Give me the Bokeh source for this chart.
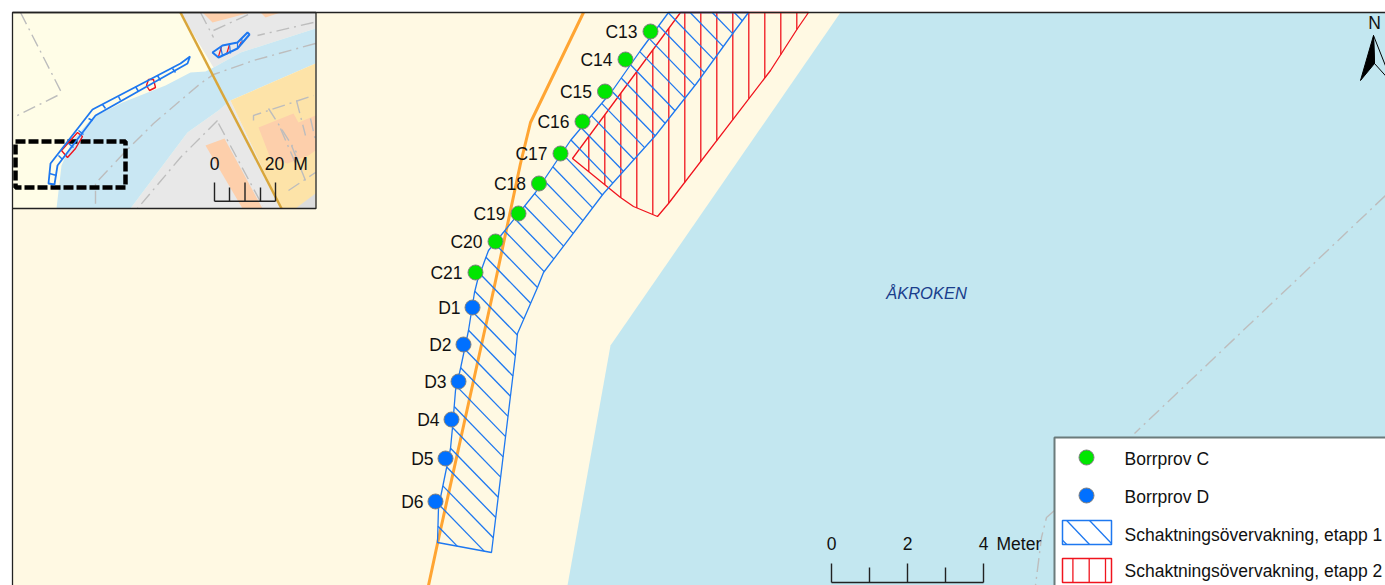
from bokeh.plotting import figure
from bokeh.embed import file_html
from bokeh.resources import INLINE
from bokeh.core.properties import value

W, H = 1385, 585
# ---- borehole points
c_names = ["C13", "C14", "C15", "C16", "C17", "C18", "C19", "C20", "C21"]
c_x = [650, 625, 604.5, 582, 560, 538.5, 518, 495, 475]
c_y = [31, 59, 91, 121, 153, 183, 213, 241, 272]
d_names = ["D1", "D2", "D3", "D4", "D5", "D6"]
d_x = [472, 463, 458, 451, 445, 435]
d_y = [307, 344, 381, 419, 458, 501]
# ---- main map shapes
water_x = [840, 610, 567, 1385, 1385]
water_y = [12, 345, 585, 585, 12]
shore_x = [583, 530, 520, 493, 437, 428]
shore_y = [12, 122, 163, 290, 543, 585]
channel1_x = [1385, 1134]
channel1_y = [195, 433]
channel2_x = [1054, 1046, 1041, 1035]
channel2_y = [510, 517, 537, 585]
blue_x = [748, 733, 696, 655, 603, 543, 537, 517, 515, 491, 437, 438, 440, 450, 452, 455, 460, 468, 474, 477, 485, 488, 502, 535, 570, 612, 640, 668]
blue_y = [12, 32, 83, 135, 193, 272, 287, 333, 354, 552, 542, 507, 497, 448, 427, 390, 368, 330, 292, 280, 258, 250, 233, 192, 140, 90, 50, 12]
red_x = [680, 808, 797, 770, 668, 657, 633, 620, 572]
red_y = [12, 12, 28, 70, 203, 216, 206, 197, 158]
# ---- inset shapes
inset_water_x = [56, 61, 72, 92, 122, 165, 190, 205, 213, 240, 315, 315, 230, 218, 187, 130]
inset_water_y = [208, 165, 140, 117, 102, 85, 72, 71, 67, 52, 28, 63, 100, 110, 132, 208]
gray_n_x = [180, 315, 315, 240, 213]
gray_n_y = [12, 12, 28, 52, 67]
gray_s_x = [218, 230, 281, 130, 187]
gray_s_y = [110, 100, 208, 208, 132]
sand_x = [315, 230, 281, 315]
sand_y = [63, 100, 208, 208]
gray_se_x = [295, 315, 315, 285]
gray_se_y = [208, 193, 208, 208]
bld_xs = [[205, 224, 262, 242], [258, 293, 298, 315, 315, 308, 287, 270], [202, 250, 212], [260, 280, 265]]
bld_ys = [[145, 138, 208, 208], [127, 113, 122, 115, 150, 155, 163, 158], [12, 12, 22], [12, 12, 17]]
road_x = [180, 281]
road_y = [12, 208]
grid_xs = [[20, 61], [57, 13], [315, 253, 213, 200, 153, 123, 95, 95], [217, 180, 137], [218, 262], [200, 213], [213, 250], [313, 257],
           [253, 253, 313], [268, 296], [280, 296], [296, 305], [310, 315], [288, 315], [291, 305]]
grid_ys = [[12, 92], [95, 117], [43, 60, 74, 83, 123, 153, 183, 208], [120, 157, 208], [123, 205], [12, 37], [30, 13], [22, 35],
           [120, 115, 95], [108, 152], [128, 165], [100, 135], [118, 140], [190, 172], [145, 180]]
strip_x = [189.5, 180, 92, 50, 48, 54, 57, 95, 187, 189.5]
strip_y = [56, 63, 109, 163, 183, 184, 165, 115, 63, 56]
strip_tick_xs = [[172, 175], [157, 160], [135, 138], [118, 120], [102, 105], [88, 92], [78, 83], [68, 73], [58, 62], [49, 56]]
strip_tick_ys = [[68, 72], [75, 80], [86, 91], [96, 100], [104, 108], [118, 120], [130, 134], [143, 147], [155, 159], [173, 175]]
strip2_x = [212, 222, 237, 247, 249, 237, 218]
strip2_y = [52, 45, 42, 32, 34, 48, 57]
strip2_tick_xs = [[220, 222], [229, 230], [237, 237], [241, 242]]
strip2_tick_ys = [[46, 55], [44, 53], [42, 48], [38, 42]]
red_small_xs = [[148, 153, 155, 149, 146], [77, 82, 75, 67, 61]]
red_small_ys = [[79, 79, 87, 90, 85], [132, 136, 148, 157, 150]]
red_tick_xs = [[221, 218], [229, 226], [241, 238]]
red_tick_ys = [[46, 56], [44, 54], [41, 47]]
frame_x = [15, 125, 125, 15, 15]
frame_y = [141, 141, 187, 187, 141]
# ---- scale bars
bar_x = [831, 869, 907, 945, 983]
bar_tops = [563, 567, 563, 567, 563]
bar_base = 582
bar_labels = ["0", "2", "4"]
bar_label_x = [831, 907, 983]
inset_bar_x = [214, 229, 244.5, 260, 275]
inset_bar_tops = [182, 187, 182, 187, 182]
inset_bar_base = 200.7
inset_labels = ["0", "20", "M"]
inset_label_x = [214, 274, 300]
legend_labels = ["Borrprov C", "Borrprov D", "Schaktningsövervakning, etapp 1", "Schaktningsövervakning, etapp 2"]
legend_label_y = [458, 496, 534, 570]

BLUE = "#1E78F0"
RED = "#F0141E"
GRID = "#BDBDBD"
FONT = value("Liberation Sans")
FS = "17.5px"
INK = "#111111"


def hatch(px, py, slope, start, step, n):
    """clip parallel hatch lines y = slope*x + c to a polygon"""
    xs, ys = [], []
    m = len(px)
    for k in range(n):
        c = start + k * step
        hits = []
        for i in range(m):
            x0, y0, x1, y1 = px[i], py[i], px[(i + 1) % m], py[(i + 1) % m]
            f0, f1 = y0 - slope * x0 - c, y1 - slope * x1 - c
            if (f0 < 0) != (f1 < 0):
                t = f0 / (f0 - f1)
                hits.append(x0 + t * (x1 - x0))
        hits.sort()
        for a, b in zip(hits[::2], hits[1::2]):
            xs.append([a, b])
            ys.append([slope * a + c, slope * b + c])
    return xs, ys


def vhatch(px, py, start, step, n):
    xs, ys = [], []
    m = len(px)
    for k in range(n):
        x = start + k * step
        hits = []
        for i in range(m):
            x0, y0, x1, y1 = px[i], py[i], px[(i + 1) % m], py[(i + 1) % m]
            if (x0 < x) != (x1 < x):
                hits.append(y0 + (x - x0) / (x1 - x0) * (y1 - y0))
        hits.sort()
        for a, b in zip(hits[::2], hits[1::2]):
            xs.append([x, x])
            ys.append([a, b])
    return xs, ys


p = figure(width=W, height=H, x_range=(0, W), y_range=(H, 0), output_backend="svg",
           toolbar_location=None, min_border=0, outline_line_color=None, background_fill_color="white")
p.axis.visible = False
p.grid.visible = False

# main map
p.quad(left=12, right=W, top=12, bottom=H, fill_color="#FFF9E3", line_color=None)
p.patch(water_x, water_y, fill_color="#C3E7F0", line_color=None)
p.line(channel1_x, channel1_y, line_color=GRID, line_width=1.4, line_dash="14 5 2 5")
p.line(channel2_x, channel2_y, line_color=GRID, line_width=1.4, line_dash="14 5 2 5")
p.line(shore_x, shore_y, line_color="#FFA533", line_width=3)

# work areas
rx, ry = vhatch(red_x, red_y, 588.3, 16, 14)
p.multi_line(rx, ry, line_color=RED, line_width=1.3)
p.patch(red_x, red_y, fill_color=None, line_color=RED, line_width=1.3)
bx, by = hatch(blue_x, blue_y, 1.03, -743.8, 22.75, 38)
p.multi_line(bx, by, line_color=BLUE, line_width=1.3)
p.patch(blue_x, blue_y, fill_color=None, line_color=BLUE, line_width=1.3)

# inset
p.quad(left=12, right=315.5, top=12, bottom=208, fill_color="#FFFDE7", line_color=None)
p.patch(gray_n_x, gray_n_y, fill_color="#E8E8E8", line_color=None)
p.patch(gray_s_x, gray_s_y, fill_color="#E8E8E8", line_color=None)
p.patch(inset_water_x, inset_water_y, fill_color="#C9E7F3", line_color=None)
p.patch(sand_x, sand_y, fill_color="#FDE3A8", line_color=None)
p.patch(gray_se_x, gray_se_y, fill_color="#DCDCDC", line_color=None)
p.patches(bld_xs, bld_ys, fill_color="#FDCFAB", line_color=None)
p.multi_line(grid_xs, grid_ys, line_color=GRID, line_width=1.4, line_dash="13 5 2 5")
p.line(road_x, road_y, line_color="#D9A63A", line_width=2.5)
p.line(frame_x, frame_y, line_color="black", line_width=4.5, line_dash="10 3")
p.patches(red_small_xs, red_small_ys, fill_color=None, line_color=RED, line_width=1.4)
p.multi_line(red_tick_xs, red_tick_ys, line_color=RED, line_width=1.2)
p.patch(strip_x, strip_y, fill_color=None, line_color=BLUE, line_width=1.8)
p.multi_line(strip_tick_xs, strip_tick_ys, line_color=BLUE, line_width=1.5)
p.patch(strip2_x, strip2_y, fill_color=None, line_color=BLUE, line_width=2)
p.multi_line(strip2_tick_xs, strip2_tick_ys, line_color=BLUE, line_width=1.2)

# inset scale
p.line([inset_bar_x[0], inset_bar_x[-1]], [inset_bar_base] * 2, line_color="#222222", line_width=1.4)
p.segment(inset_bar_x, inset_bar_tops, inset_bar_x, [inset_bar_base] * 5, line_color="#222222", line_width=1.4)
p.text(inset_label_x, [163] * 3, text=inset_labels, text_font=FONT, text_font_size=FS,
       text_align="center", text_baseline="middle", text_color=INK)
p.line([12, 315.5, 315.5, 12], [208, 208, 12, 12], line_color="#222222", line_width=1.3)

# points and their labels
p.text([x - 13 for x in c_x], c_y, text=c_names, text_font=FONT, text_font_size=FS, text_align="right",
       text_baseline="middle", text_color=INK)
p.text([x - 12 for x in d_x], d_y, text=d_names, text_font=FONT, text_font_size=FS, text_align="right",
       text_baseline="middle", text_color=INK)
p.scatter(c_x, c_y, size=15, fill_color="#00E600", line_color="#808080", line_width=1)
p.scatter(d_x, d_y, size=15, fill_color="#0070FF", line_color="#808080", line_width=1)

p.text([926], [292], text=["ÅKROKEN"], text_font=FONT, text_font_style="italic", text_font_size="16.5px",
       text_align="center", text_baseline="middle", text_color="#1A3E8C")

# north arrow
p.patch([1373, 1360, 1374], [35, 80, 63], fill_color="black", line_color="black", line_width=1)
p.patch([1373, 1374, 1392], [35, 63, 83], fill_color=None, line_color="black", line_width=1)
p.text([1374], [22], text=["N"], text_font=FONT, text_font_size=FS, text_align="center",
       text_baseline="middle", text_color=INK)

# main scale
p.line([bar_x[0], bar_x[-1]], [bar_base] * 2, line_color="#222222", line_width=1.4)
p.segment(bar_x, bar_tops, bar_x, [bar_base] * 5, line_color="#222222", line_width=1.4)
p.text(bar_label_x, [543] * 3, text=bar_labels, text_font=FONT, text_font_size=FS, text_align="center",
       text_baseline="middle", text_color=INK)
p.text([996], [543], text=["Meter"], text_font=FONT, text_font_size=FS, text_align="left",
       text_baseline="middle", text_color=INK)

# legend
p.quad(left=1054, right=W + 5, top=437, bottom=H + 5, fill_color="white", line_color="#6B7B7B", line_width=2)
p.scatter([1086], [457], size=15, fill_color="#00E600", line_color="#808080", line_width=1)
p.scatter([1086], [495], size=15, fill_color="#0070FF", line_color="#808080", line_width=1)
p.text([1124] * 4, legend_label_y, text=legend_labels, text_font=FONT, text_font_size=FS, text_align="left",
       text_baseline="middle", text_color=INK)
sw1_x, sw1_y = [1062, 1111, 1111, 1062], [520, 520, 544, 544]
sw2_x, sw2_y = [1062, 1111, 1111, 1062], [558, 558, 582, 582]
hx, hy = hatch(sw1_x, sw1_y, 1.05, -623.5, 24, 3)
p.multi_line(hx, hy, line_color=BLUE, line_width=1.3)
p.patch(sw1_x, sw1_y, fill_color=None, line_color=BLUE, line_width=1.5)
hx, hy = vhatch(sw2_x, sw2_y, 1072.4, 16.3, 3)
p.multi_line(hx, hy, line_color=RED, line_width=1.3)
p.patch(sw2_x, sw2_y, fill_color=None, line_color=RED, line_width=1.5)

# map frame
p.line([12, 12, W], [H, 12, 12], line_color="#222222", line_width=1.3)

open("out.html", "w").write(file_html(p, INLINE))
